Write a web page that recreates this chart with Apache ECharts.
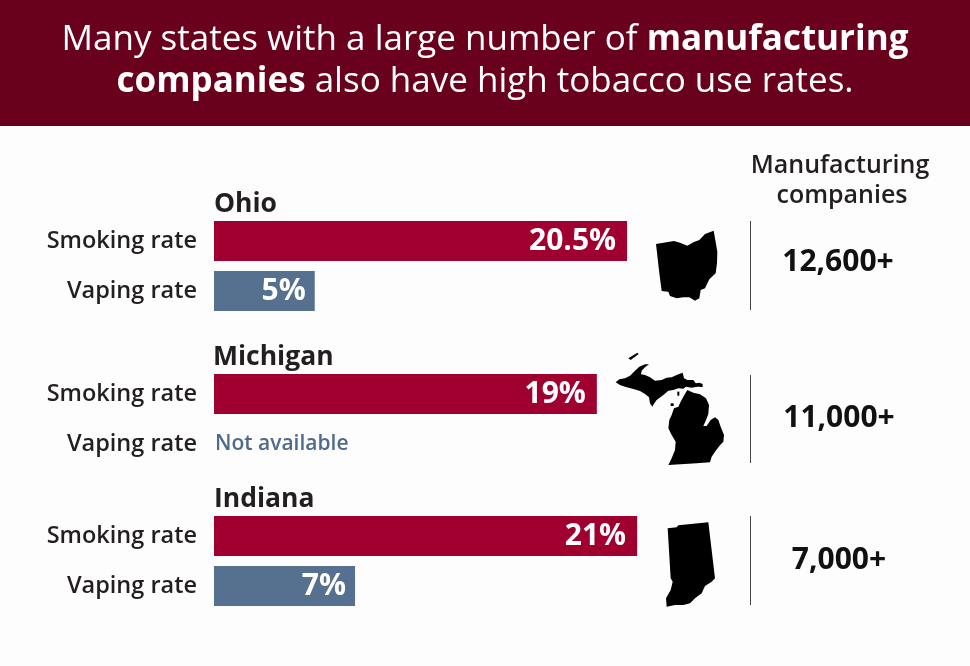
<!DOCTYPE html>
<html><head><meta charset="utf-8">
<style>html,body{margin:0;padding:0;background:#fdfdfd}#c{width:970px;height:666px}</style>
<script src="https://cdn.jsdelivr.net/npm/echarts@6/dist/echarts.min.js"></script>
</head><body><div id="c"></div>
<script>
const states = ['Ohio', 'Michigan', 'Indiana'];
const rowLabels = ['Smoking rate', 'Vaping rate'];
const smoking = [20.5, 19, 21];
const vaping = [5, null, 7];
const smokingText = ['20.5%', '19%', '21%'];
const vapingText = ['5%', 'Not available', '7%'];
const companies = ['12,600+', '11,000+', '7,000+'];
const FONT = '"Open Sans", sans-serif';
const gridTops = [216, 369, 511];
const nameY = [204, 357, 499];
const nameX = [214, 213, 214];
const compY = [262, 418, 560];
const compX = [838, 839, 839];
const ruleY = [[221, 310], [375, 463], [516, 605]];
const INK = '#231f20', RED = '#a0002f', BLUE = '#56708f';

const shapes = [
 {o:[600,210], parts:[[[168,102],[222,93],[240,98],[262,107],[280,97],[298,90],[315,72],[341,62],[346,90],[352,125],[351,160],[347,190],[328,208],[315,235],[302,240],[298,265],[285,272],[268,262],[250,262],[230,265],[210,258],[205,245],[185,243],[178,190]]]},
 {o:[600,340], parts:[
  [[85,55],[112,38],[116,42],[92,60]],
  [[47,127],[58,118],[75,115],[90,107],[105,92],[118,80],[135,73],[147,73],[135,82],[125,92],[123,103],[135,105],[150,112],[165,122],[185,120],[200,113],[215,112],[235,103],[248,98],[252,115],[262,120],[280,120],[287,130],[298,128],[308,132],[308,141],[292,140],[275,143],[258,140],[250,146],[235,145],[220,150],[205,152],[190,165],[170,180],[163,190],[157,200],[150,190],[147,172],[135,162],[120,153],[100,147],[75,140],[60,135]],
  [[262,150],[280,158],[300,163],[318,175],[327,195],[325,222],[318,240],[310,258],[320,258],[332,240],[345,232],[355,240],[362,260],[372,285],[370,305],[358,318],[345,335],[335,350],[330,367],[290,370],[205,375],[215,355],[225,330],[227,305],[215,285],[205,265],[208,240],[215,225],[222,205],[235,200],[242,185],[250,170]],
  [[232,155],[238,155],[238,167],[232,167]],
  [[212,190],[221,190],[221,198],[212,198]]
 ]},
 {o:[650,510], parts:[[[53,55],[80,52],[85,46],[175,37],[195,205],[185,215],[165,228],[155,250],[135,265],[120,280],[100,285],[75,285],[50,290],[48,265],[62,240],[68,215],[62,205]]]}
];

const graphic = [
 {type:'rect', z:-1, shape:{x:0,y:0,width:970,height:126},
  style:{fill:'#69001c'}},
 {type:'text', x:840, y:166, style:{text:'Manufacturing',fill:INK,font:'600 25px '+FONT,align:'center',verticalAlign:'middle'}},
 {type:'text', x:842, y:196, style:{text:'companies',fill:INK,font:'600 25px '+FONT,align:'center',verticalAlign:'middle'}}
];
states.forEach((s,i)=>{
 graphic.push({type:'text',x:nameX[i],y:nameY[i],style:{text:s,fill:INK,font:'700 26.5px '+FONT,align:'left',verticalAlign:'middle'}});
 graphic.push({type:'text',x:compX[i],y:compY[i],style:{text:companies[i],fill:'#111',font:'700 30px '+FONT,align:'center',verticalAlign:'middle'}});
 graphic.push({type:'line',shape:{x1:750.5,y1:ruleY[i][0],x2:750.5,y2:ruleY[i][1]},style:{stroke:'#444',lineWidth:1}});
 shapes[i].parts.forEach(p=>graphic.push({type:'polygon',shape:{points:p.map(q=>[shapes[i].o[0]+q[0]/3,shapes[i].o[1]+q[1]/3])},style:{fill:'#000'}}));
});

const option = {
 animation:false,
 backgroundColor:'#fdfdfd',
 title:{left:'center',top:14,
  text:'Many states with a large number of {b|manufacturing}\n{b|companies} also have high tobacco use rates.',
  textStyle:{color:'#fff',fontFamily:FONT,fontSize:35,fontWeight:400,lineHeight:42,
   rich:{b:{color:'#fff',fontFamily:FONT,fontSize:35,fontWeight:700,lineHeight:42}}}},
 grid:states.map((s,i)=>({left:214,top:gridTops[i],width:503.75,height:100})),
 xAxis:states.map((s,i)=>({gridIndex:i,type:'value',min:0,max:25,show:false})),
 yAxis:states.map((s,i)=>({gridIndex:i,type:'category',inverse:true,
  data:[rowLabels[0],{value:rowLabels[1],textStyle:{padding:[6,0,0,0]}}],
  axisLine:{show:false},axisTick:{show:false},
  axisLabel:{color:INK,fontFamily:FONT,fontSize:23.5,fontWeight:600,margin:17}})),
 series:states.map((s,i)=>({type:'bar',xAxisIndex:i,yAxisIndex:i,barWidth:40,
  data:[
   {value:smoking[i],itemStyle:{color:RED},
    label:{show:true,position:'insideRight',distance:11,formatter:smokingText[i],color:'#fff',fontFamily:FONT,fontSize:30,fontWeight:700}},
   vaping[i]===null
   ? {value:0,itemStyle:{color:BLUE},
      label:{show:true,position:'right',distance:1,padding:[6,0,0,0],formatter:vapingText[i],color:'#4f6a8c',fontFamily:FONT,fontSize:21,fontWeight:600}}
   : {value:vaping[i],itemStyle:{color:BLUE},
      label:{show:true,position:'insideRight',distance:9,formatter:vapingText[i],color:'#fff',fontFamily:FONT,fontSize:30,fontWeight:700}}
  ]})),
 graphic:graphic
};
echarts.init(document.getElementById('c'),null,{renderer:'canvas'}).setOption(option);
</script></body></html>
